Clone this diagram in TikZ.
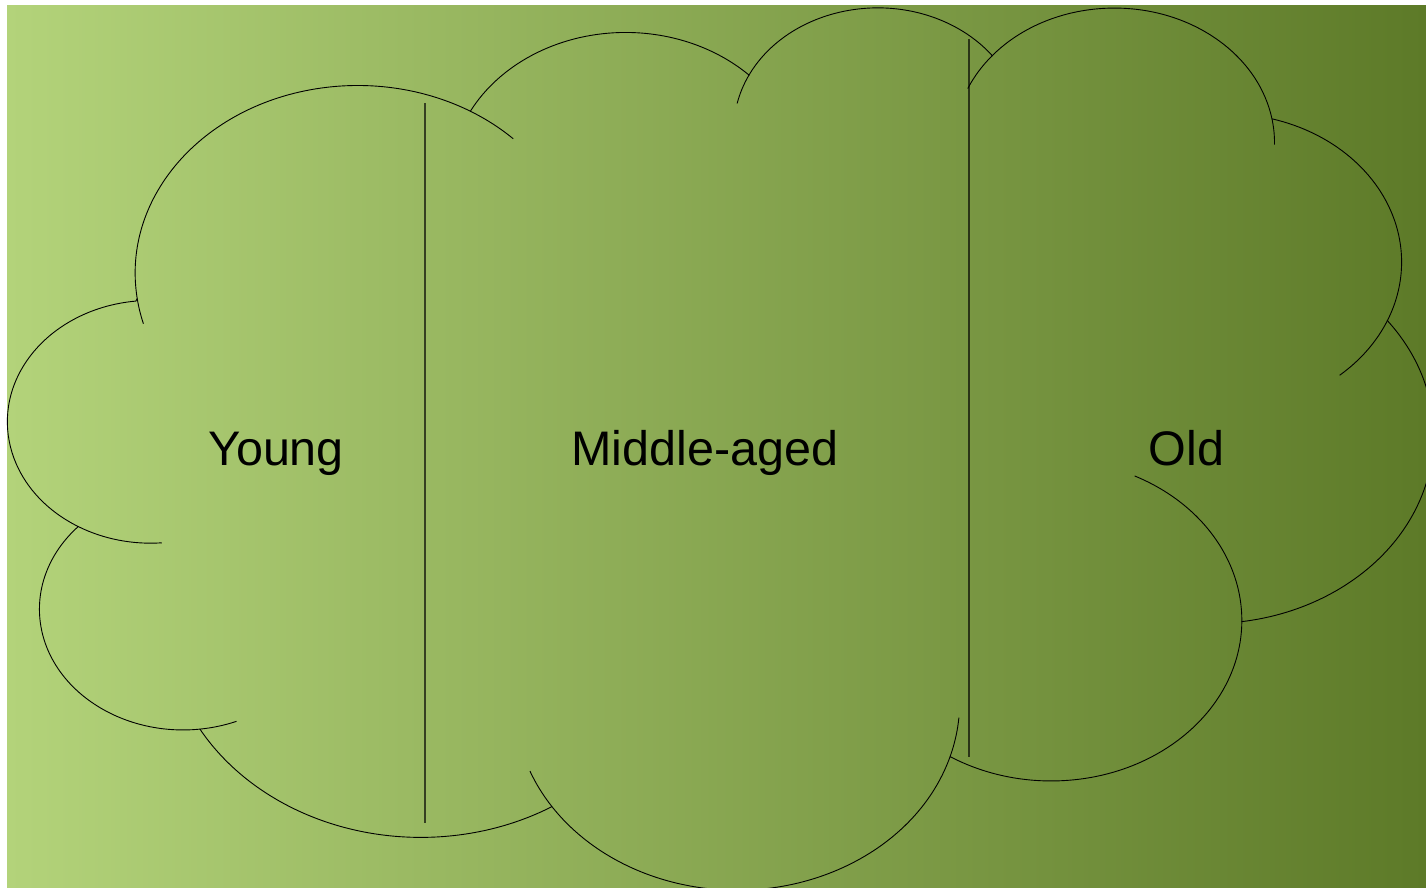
\documentclass[tikz,border=0pt]{standalone}
\usepackage{fontspec}
\setmainfont{Liberation Sans}
\definecolor{bgL}{RGB}{179,211,122}
\definecolor{bgR}{RGB}{93,122,40}
\tikzset{
  cloudline/.style={draw=black, line width=0.9pt},
  divider/.style={draw=black, line width=1.4pt, draw opacity=0.65},
  lbl/.style={anchor=base, inner sep=0pt, font=\fontsize{48.5}{58}\selectfont, text=black}
}
\begin{document}
\begin{tikzpicture}[x=1pt,y=-1pt]
\useasboundingbox (0,0) rectangle (1426,887);
\shade[left color=bgL, right color=bgR] (7,5) rectangle (1426,887);
\begin{scope}[shift={(8.6,5)}, x=3.29722pt, y=-2.041667pt]
  \draw[cloudline] (39.00,143.70) coordinate (j1)
    arc[start angle=-187.746, end angle=-59.637, x radius=67.53, y radius=91.90] coordinate (j2)
    arc[start angle=-152.025, end angle=-45.456, x radius=53.33, y radius=72.67] coordinate (j3)
    arc[start angle=-153.490, end angle=-37.331, x radius=43.65, y radius=59.45] coordinate (j4)
    arc[start angle=-139.715, end angle=-10.212, x radius=48.57, y radius=65.95] coordinate (j5)
    arc[start angle=-74.767, end angle=23.209, x radius=53.33, y radius=72.73] coordinate (j6)
    arc[start angle=-37.526, end angle=81.863, x radius=67.75, y radius=92.20] coordinate (j7)
    arc[start angle=0.4596, end angle=121.975, x radius=57.85, y radius=78.67] coordinate (j8)
    arc[start angle=16.845, end angle=146.237, x radius=67.52, y radius=92.15] coordinate (j9)
    arc[start angle=58.989, end angle=150.20, x radius=77.20, y radius=105.43] coordinate (j10)
    arc[start angle=-276.694, end angle=-136.894, x radius=43.60, y radius=59.18] coordinate (j11)
    arc[start angle=-239.645, end angle=-95.888, x radius=43.45, y radius=59.45] -- cycle;
  % inner extensions of the lobes
  \draw[cloudline] (j1) arc[start angle=-187.746, end angle=-195.657, x radius=67.53, y radius=91.90];
  \draw[cloudline] (j2) arc[start angle=-59.637, end angle=-45.733, x radius=67.53, y radius=91.90];
  \draw[cloudline] (j3) arc[start angle=-153.490, end angle=-167.725, x radius=43.65, y radius=59.45];
  \draw[cloudline] (j4) arc[start angle=-139.715, end angle=-156.283, x radius=48.57, y radius=65.95];
  \draw[cloudline] (j5) arc[start angle=-10.212, end angle=0.821, x radius=48.57, y radius=65.95];
  \draw[cloudline] (j6) arc[start angle=23.209, end angle=49.640, x radius=53.33, y radius=72.73];
  \draw[cloudline] (j7) arc[start angle=0.4596, end angle=-64.029, x radius=57.85, y radius=78.67];
  \draw[cloudline] (j8) arc[start angle=16.845, end angle=4.738, x radius=67.52, y radius=92.15];
  \draw[cloudline] (j9) arc[start angle=146.237, end angle=158.473, x radius=67.52, y radius=92.15];
  \draw[cloudline] (j10) arc[start angle=-276.694, end angle=-291.763, x radius=43.60, y radius=59.18];
  \draw[cloudline] (j11) arc[start angle=-239.645, end angle=-274.454, x radius=43.45, y radius=59.45];
\end{scope}
\coordinate (d1t) at (425,103);
\coordinate (d1b) at (425,823);
\coordinate (d2t) at (969,39);
\coordinate (d2b) at (969,757);
\draw[divider] (d1t) -- (d1b);
\draw[divider] (d2t) -- (d2b);
\node[lbl] (young) at (276,465) {Young};
\node[lbl] (middle) at (705,465) {Middle-aged};
\node[lbl] (old) at (1186.5,465) {Old};
\end{tikzpicture}
\end{document}
